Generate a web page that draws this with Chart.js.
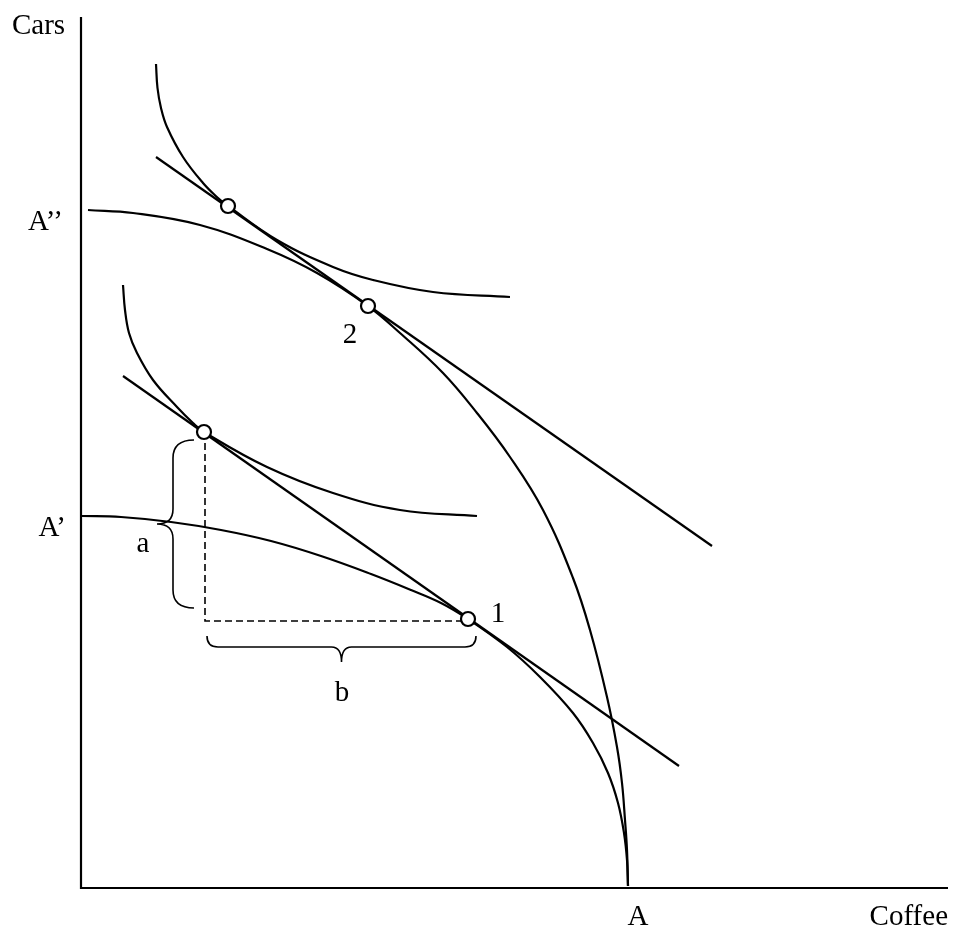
<!DOCTYPE html>
<html>
<head>
<meta charset="utf-8">
<script src="https://cdn.jsdelivr.net/npm/chart.js@4"></script>
<style>
  html, body { margin: 0; padding: 0; background: #fff; }
  canvas { display: block; }
</style>
</head>
<body>
<canvas id="chart" width="953" height="929"></canvas>
<script>
// Values (axis units: coffee across, cars up)
const axisLines = [[0, 871], [0, 0], [867, 0]];

const ppfLow = [[0,372],[40,371],[90,366],[140,358],[190,347],[240,332],[290,314],[330,298],[360,285],[387,269],
  [426,241],[459,211],[492,175],[512,145],[527,115],[537,85],[543,55],[546,28],[547,2]];
const ppfHigh = [[7,678],[52,675],[119,663],[186,639],[236,615],[287,582],[319,555],[362,515],[396,475],[429,431],
  [462,378],[492,310],[509,258],[526,191],[536,141],[541,105],[544,68],[546,38],[547,2]];

const icLow = [[42,603],[44,578],[48,555],[56,535],[72,508],[96,481],[112,465],[123,456],[186,421],[252,395],[319,378],[396,372]];
const icHigh = [[75,824],[76.5,800],[80,780],[86,761],[102,731],[122,705],[137,690],[147,682],[196,648],[252,621],[292,608],[352,596],[429,591]];

const priceLow = [[42,512],[598,122]];
const priceHigh = [[75,731],[631,342]];

const tangency = [[147,682],[287,582],[123,456],[387,269]];
const riseRun = [[124,456],[124,267],[387,267]];

// braces: from / to in axis units
const braces = [
  { from: [113, 448], to: [113, 280], depth: 21, tip: 16, corner: 18, tipRun: 15 },
  { from: [126, 252], to: [395, 252], depth: 11, tip: 15, corner: 11, tipRun: 10 }
];

const labels = [
  { text: 'Cars', x: -69, y: 854, align: 'left' },
  { text: 'A\u2019\u2019', x: -18, y: 658, align: 'right' },
  { text: 'A\u2019', x: -15, y: 352, align: 'right' },
  { text: 'a', x: 62, y: 336, align: 'center' },
  { text: 'b', x: 261, y: 187, align: 'center' },
  { text: '2', x: 269, y: 545, align: 'center' },
  { text: '1', x: 417, y: 266, align: 'center' },
  { text: 'A', x: 557, y: -37, align: 'center' },
  { text: 'Coffee', x: 867, y: -37, align: 'right' }
];

const pts = arr => arr.map(([x, y]) => ({ x, y }));

const curve = (data, extra) => Object.assign({
  data: pts(data), showLine: true, borderColor: '#000', borderWidth: 2.2,
  pointRadius: 0, pointHoverRadius: 0, fill: false, clip: false,
  tension: 0.4
}, extra || {});

function drawBrace(ctx, a, b, o) {
  const L = Math.hypot(b[0] - a[0], b[1] - a[1]);
  const ux = (b[0] - a[0]) / L, uy = (b[1] - a[1]) / L;
  const nx = -uy, ny = ux;
  const P = (u, v) => [a[0] + u * ux + v * nx, a[1] + u * uy + v * ny];
  const h = o.depth, m = L / 2;
  ctx.beginPath();
  ctx.moveTo(...P(0, 0));
  ctx.quadraticCurveTo(...P(0, h), ...P(o.corner, h));
  ctx.lineTo(...P(m - o.tipRun, h));
  ctx.quadraticCurveTo(...P(m, h), ...P(m, h + o.tip));
  ctx.quadraticCurveTo(...P(m, h), ...P(m + o.tipRun, h));
  ctx.lineTo(...P(L - o.corner, h));
  ctx.quadraticCurveTo(...P(L, h), ...P(L, 0));
  ctx.stroke();
}

const annotate = {
  id: 'annotate',
  afterDatasetsDraw(chart) {
    const { ctx, scales: { x, y } } = chart;
    const px = p => [x.getPixelForValue(p[0]), y.getPixelForValue(p[1])];
    ctx.save();
    ctx.strokeStyle = '#000';
    ctx.lineWidth = 1.6;
    braces.forEach(br => drawBrace(ctx, px(br.from), px(br.to), br));
    ctx.fillStyle = '#000';
    ctx.font = '29px "Liberation Serif", "Times New Roman", serif';
    ctx.textBaseline = 'alphabetic';
    labels.forEach(l => {
      ctx.textAlign = l.align;
      ctx.fillText(l.text, x.getPixelForValue(l.x), y.getPixelForValue(l.y));
    });
    ctx.restore();
  }
};

new Chart(document.getElementById('chart'), {
  type: 'scatter',
  data: {
    datasets: [
      { data: pts(tangency), pointRadius: 7, pointHoverRadius: 7, pointBackgroundColor: '#fff',
        pointBorderColor: '#000', pointBorderWidth: 2.2, showLine: false, clip: false },
      curve(riseRun, { borderWidth: 1.6, borderDash: [7, 4], tension: 0 }),
      curve(priceHigh, { tension: 0 }),
      curve(priceLow, { tension: 0 }),
      curve(icHigh),
      curve(icLow),
      curve(ppfHigh),
      curve(ppfLow),
      curve(axisLines, { tension: 0 })
    ]
  },
  options: {
    responsive: false,
    animation: false,
    events: [],
    layout: { padding: { left: 81, right: 5, top: 17, bottom: 41 }, autoPadding: false },
    plugins: { legend: { display: false }, tooltip: { enabled: false } },
    scales: {
      x: { type: 'linear', min: 0, max: 867, display: false },
      y: { type: 'linear', min: 0, max: 871, display: false }
    }
  },
  plugins: [annotate]
});
</script>
</body>
</html>
